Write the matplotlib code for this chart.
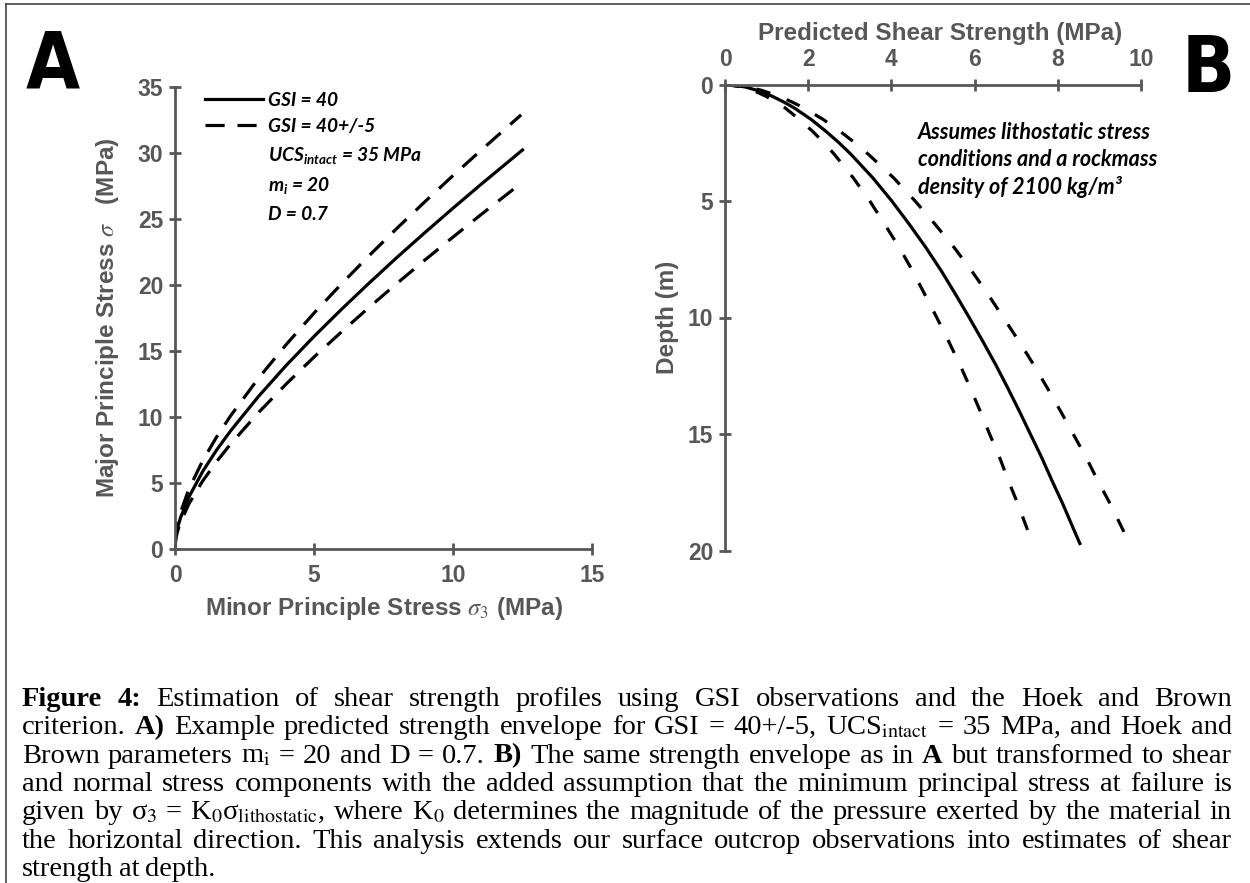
"""
plot.py

Hoek-Brown strength envelope (A) and shear strength vs depth profile (B),
with the figure caption underneath. Saves out.png.
"""

import matplotlib
matplotlib.use("Agg")  # headless rendering, no display required

import matplotlib.pyplot as plt
from matplotlib.lines import Line2D

plt.rcParams["mathtext.fontset"] = "custom"
plt.rcParams["mathtext.it"] = "Lato:italic:bold"
plt.rcParams["mathtext.rm"] = "Lato:bold"

# ---- Panel A: principal stress envelopes (MPa) ----
SIGMA3 = [0, 0.05, 0.1, 0.2, 0.5, 1, 1.5, 2, 3, 4, 5, 6, 7, 8, 9, 10, 11, 12.5]
SIGMA1_GSI40 = [0.41, 1.19, 1.66, 2.38, 3.94, 5.89, 7.51, 8.95, 11.55, 13.91,
                16.10, 18.18, 20.18, 22.12, 23.99, 25.82, 27.61, 30.23]
SIGMA3_HI = [0, 0.05, 0.1, 0.2, 0.5, 1, 1.5, 2, 3, 4, 5, 6, 7, 8, 9, 10, 11, 12.45]
SIGMA1_GSI45 = [0.61, 1.44, 1.97, 2.78, 4.54, 6.71, 8.50, 10.09, 12.93, 15.49,
                17.87, 20.11, 22.26, 24.33, 26.33, 28.29, 30.19, 32.89]
SIGMA3_LO = [0, 0.05, 0.1, 0.2, 0.5, 1, 1.5, 2, 3, 4, 5, 6, 7, 8, 9, 10, 11, 12.2]
SIGMA1_GSI35 = [0.27, 0.98, 1.40, 2.03, 3.42, 5.17, 6.63, 7.95, 10.33, 12.50,
                14.54, 16.47, 18.34, 20.15, 21.91, 23.63, 25.32, 27.30]

# ---- Panel B: predicted shear strength (MPa) vs depth (m) ----
DEPTH = [0, 0.1, 0.25, 0.5, 0.75, 1, 1.5, 2, 2.5, 3, 4, 5, 6, 7, 8, 9, 10,
         11, 12, 13, 14, 15, 16, 17, 18, 19, 19.7]
TAU_GSI40 = [0, 0.47, 0.77, 1.13, 1.41, 1.66, 2.07, 2.42, 2.74, 3.03, 3.55,
             4.01, 4.43, 4.83, 5.20, 5.54, 5.87, 6.19, 6.50, 6.79, 7.07, 7.34,
             7.61, 7.86, 8.12, 8.36, 8.53]
DEPTH_DASH = [0, 0.1, 0.25, 0.5, 0.75, 1, 1.5, 2, 2.5, 3, 4, 5, 6, 7, 8, 9,
              10, 11, 12, 13, 14, 15, 16, 17, 18, 19.2]
TAU_GSI45 = [0, 0.54, 0.88, 1.29, 1.61, 1.89, 2.36, 2.76, 3.12, 3.45, 4.05,
             4.57, 5.05, 5.51, 5.93, 6.32, 6.69, 7.06, 7.41, 7.74, 8.06, 8.37,
             8.68, 8.96, 9.26, 9.59]
TAU_GSI35 = [0, 0.41, 0.67, 0.98, 1.22, 1.44, 1.79, 2.10, 2.38, 2.63, 3.08,
             3.48, 3.84, 4.19, 4.51, 4.80, 5.09, 5.37, 5.64, 5.89, 6.13, 6.36,
             6.60, 6.81, 7.04, 7.29]

A_XTICKS = [0, 5, 10, 15]
A_YTICKS = [0, 5, 10, 15, 20, 25, 30, 35]
B_XTICKS = [0, 2, 4, 6, 8, 10]
B_YTICKS = [0, 5, 10, 15, 20]

LEGEND_LABELS = ["GSI = 40", "GSI = 40+/-5", r"UCS$_{intact}$ = 35 MPa",
                 r"m$_{i}$ = 20", "D = 0.7"]
NOTE_B = ["Assumes lithostatic stress",
          "conditions and a rockmass",
          "density of 2100 kg/m\u00b3"]

CAPTION_LINES = [
    "**Figure** **4:** Estimation of shear strength profiles using GSI observations and the Hoek and Brown",
    "criterion. **A)** Example predicted strength envelope for GSI = 40+/-5, UCS$_{\\mathrm{intact}}$ = 35 MPa, and Hoek and",
    "Brown parameters m$_{\\mathrm{i}}$ = 20 and D = 0.7. **B)** The same strength envelope as in **A** but transformed to shear",
    "and normal stress components with the added assumption that the minimum principal stress at failure is",
    "given by \u03c3$_{\\mathrm{3}}$ = K$_{\\mathrm{0}}$\u03c3$_{\\mathrm{lithostatic}}$, where K$_{\\mathrm{0}}$ determines the magnitude of the pressure exerted by the material in",
    "the horizontal direction. This analysis extends our surface outcrop observations into estimates of shear",
    "strength at depth.",
]

GREY = "#575757"
W, H = 1250, 883

fig = plt.figure(figsize=(W / 100, H / 100), dpi=100)


def add_axes_px(left, top, right, bottom):
    return fig.add_axes([left / W, 1 - bottom / H, (right - left) / W, (bottom - top) / H])


def style_axes(ax):
    for side in ax.spines:
        ax.spines[side].set_color(GREY)
        ax.spines[side].set_linewidth(2)
    ax.tick_params(direction="inout", length=9, width=2, color=GREY,
                   labelcolor=GREY, labelsize=16.5, pad=4)
    for lab in ax.get_xticklabels() + ax.get_yticklabels():
        lab.set_fontweight("bold")
        lab.set_family("Liberation Sans")


# ---------------- panel A ----------------
ax_a = add_axes_px(175, 87, 592, 549)
ax_a.plot(SIGMA3, SIGMA1_GSI40, color="black", lw=2.3)
ax_a.plot(SIGMA3_HI, SIGMA1_GSI45, color="black", lw=2.3, dashes=(6, 4))
ax_a.plot(SIGMA3_LO, SIGMA1_GSI35, color="black", lw=2.3, dashes=(6, 4))
ax_a.set_xlim(0, 15)
ax_a.set_ylim(0, 35)
ax_a.set_xticks(A_XTICKS)
ax_a.set_yticks(A_YTICKS)
ax_a.spines["top"].set_visible(False)
ax_a.spines["right"].set_visible(False)
style_axes(ax_a)
ax_a.tick_params(axis="x", pad=6)

lab_font = dict(family="Liberation Sans", weight="bold", size=17.5, color=GREY)
ax_a.set_xlabel(r"Minor Principle Stress $\sigma_3$ (MPa)", math_fontfamily="stix", **lab_font)
ax_a.set_ylabel(r"Major Principle Stress $\sigma$   (MPa)", math_fontfamily="stix", **lab_font)
ax_a.xaxis.set_label_coords(0.5, -0.1)
ax_a.yaxis.set_label_coords(-0.13, 0.5)

handles = [Line2D([], [], color="black", lw=2.3),
           Line2D([], [], color="black", lw=2.3, dashes=(6, 4))]
handles += [Line2D([], [], linestyle="none")] * 3
leg = ax_a.legend(handles, LEGEND_LABELS, loc="upper left",
                  bbox_to_anchor=(0.072, 0.99), frameon=False, borderpad=0,
                  borderaxespad=0, handlelength=3.0, handletextpad=0.3,
                  labelspacing=0.5,
                  prop=dict(family="Lato", weight="bold", style="italic", size=13.8))
for t in leg.get_texts():
    t.set_math_fontfamily("custom")

# ---------------- panel B ----------------
ax_b = add_axes_px(725, 84.5, 1141, 550.5)
ax_b.plot(TAU_GSI40, DEPTH, color="black", lw=2.3)
ax_b.plot(TAU_GSI45, DEPTH_DASH, color="black", lw=2.3, dashes=(4.5, 5.5))
ax_b.plot(TAU_GSI35, DEPTH_DASH, color="black", lw=2.3, dashes=(4.5, 5.5))
ax_b.set_xlim(0, 10)
ax_b.set_ylim(20, 0)
ax_b.set_xticks(B_XTICKS)
ax_b.set_yticks(B_YTICKS)
ax_b.xaxis.tick_top()
ax_b.xaxis.set_label_position("top")
ax_b.spines["bottom"].set_visible(False)
ax_b.spines["right"].set_visible(False)
style_axes(ax_b)
ax_b.tick_params(axis="x", pad=5)
ax_b.set_xlabel("Predicted Shear Strength (MPa)", **lab_font)
ax_b.set_ylabel("Depth (m)", **lab_font)
ax_b.xaxis.set_label_coords(0.517, 1.095)
ax_b.yaxis.set_label_coords(-0.11, 0.5)

for i, line in enumerate(NOTE_B):
    ax_b.text(0.464, 0.896 - i * 0.058, line, transform=ax_b.transAxes,
              family="Lato", weight="bold", style="italic", size=15.5, va="center")

# panel letters
letter_font = dict(family="DejaVu Sans", weight="heavy", stretch="condensed",
                   size=56, color="black")
fig.text(26 / W, 1 - 88 / H, "A", ha="left", va="baseline", **letter_font)
fig.text(1182 / W, 1 - 92 / H, "B", ha="left", va="baseline", **letter_font)

# page frame lines
fig.add_artist(Line2D([6 / W, 1], [1 - 4 / H, 1 - 4 / H], transform=fig.transFigure,
                      color="#444444", lw=1.2))
fig.add_artist(Line2D([6 / W, 6 / W], [0, 1 - 4 / H], transform=fig.transFigure,
                      color="#444444", lw=1.2))

# ---------------- caption (justified) ----------------
renderer = fig.canvas.get_renderer()
CAP_LEFT, CAP_RIGHT = 22, 1232
CAP_TOP, CAP_STEP = 706, 28.3
cap_font = dict(family="Liberation Serif", size=20.5, color="black",
                math_fontfamily="stix", va="baseline", ha="left")

for i, line in enumerate(CAPTION_LINES):
    y = 1 - (CAP_TOP + i * CAP_STEP) / H
    words = []
    for w in line.split(" "):
        bold = w.startswith("**")
        words.append(fig.text(0, y, w.replace("**", ""),
                              weight="bold" if bold else "normal", **cap_font))
    widths = [t.get_window_extent(renderer).width for t in words]
    last = i == len(CAPTION_LINES) - 1
    gap = 5.5 if last else (CAP_RIGHT - CAP_LEFT - sum(widths)) / (len(words) - 1)
    x = CAP_LEFT
    for t, wd in zip(words, widths):
        t.set_x(x / W)
        x += wd + gap

fig.savefig("out.png", dpi=100)
